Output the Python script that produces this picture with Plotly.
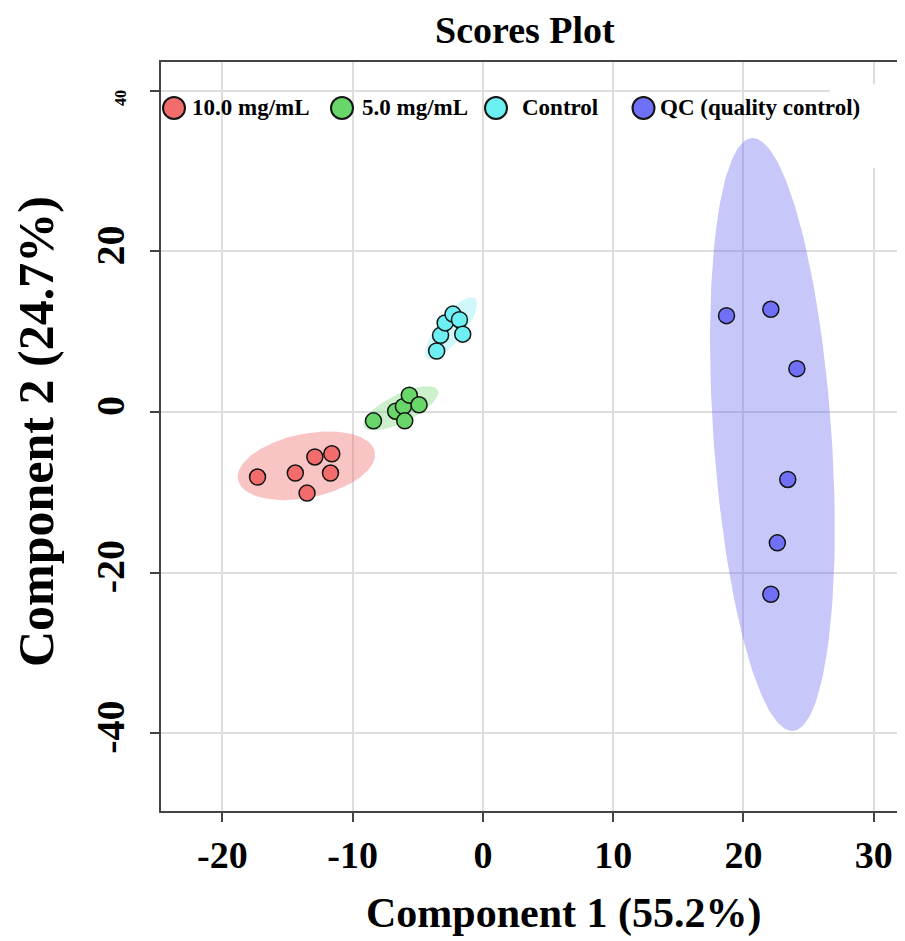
import numpy as np
import plotly.graph_objects as go

# ---------------- data ----------------
groups = ["10.0 mg/mL", "5.0 mg/mL", "Control", "QC (quality control)"]

x_10mg = [-17.3, -14.4, -12.9, -11.6, -11.7, -13.5]
y_10mg = [-8.1, -7.6, -5.6, -5.2, -7.6, -10.1]

x_5mg = [-8.4, -6.7, -6.1, -5.65, -4.9, -6.0]
y_5mg = [-1.1, 0.1, 0.7, 2.1, 0.9, -1.1]

x_ctrl = [-3.55, -3.25, -2.9, -2.3, -1.8, -1.55]
y_ctrl = [7.6, 9.55, 11.1, 12.2, 11.5, 9.7]

x_qc = [18.7, 22.1, 24.1, 23.4, 22.6, 22.1]
y_qc = [12.0, 12.8, 5.4, -8.4, -16.3, -22.7]

# confidence ellipses: centre, semi-axis vector U, conjugate semi-axis vector V
ell_center = [(-13.55, -6.7), (-6.3, 0.46), (-2.44, 10.42), (22.22, -2.8)]
ell_u = [(5.25, 1.76), (2.83, 2.28), (1.83, 3.74), (-1.58, 36.92)]
ell_v = [(0.5, -3.9), (0.48, -1.57), (0.78, -1.0), (4.52, 0.51)]

x_ticks = [-20, -10, 0, 10, 20, 30]
x_ticktext = ["-20", "-10", "0", "10", "20", "30"]
y_ticks = [-40, -20, 0, 20, 40]
y_ticktext = ["-40", "-20", "0", "20", ""]

# ---------------- styling ----------------
FONT = "Liberation Serif, Times New Roman, serif"
marker_cols = ["rgb(242,108,108)", "rgb(104,214,104)", "rgb(108,240,244)", "rgb(112,112,246)"]
fill_cols = ["rgba(240,100,100,0.38)", "rgba(100,205,100,0.33)",
             "rgba(100,232,240,0.30)", "rgba(100,100,240,0.36)"]

xs = [x_10mg, x_5mg, x_ctrl, x_qc]
ys = [y_10mg, y_5mg, y_ctrl, y_qc]

fig = go.Figure()

t = np.linspace(0, 2 * np.pi, 200)
for i in range(4):
    cx, cy = ell_center[i]
    ux, uy = ell_u[i]
    vx, vy = ell_v[i]
    ex = cx + np.cos(t) * ux + np.sin(t) * vx
    ey = cy + np.cos(t) * uy + np.sin(t) * vy
    fig.add_trace(go.Scatter(x=ex, y=ey, mode="lines", fill="toself",
                             fillcolor=fill_cols[i], line=dict(width=0),
                             hoverinfo="skip", showlegend=False))

for i in range(4):
    fig.add_trace(go.Scatter(x=xs[i], y=ys[i], mode="markers", name=groups[i],
                             marker=dict(size=16, color=marker_cols[i],
                                         line=dict(color="rgb(20,20,20)", width=1.5)),
                             showlegend=False))

# page has an 8px body margin; figure sits at (8, 8)
OFF = 8
FIG_W, FIG_H = 905 - OFF, 941 - OFF
# plot area in page pixels
L, R, T, B = 161, 905, 62, 811
W, H = R - L, B - T


def px(x):
    return (x - L) / W


def py(y):
    return (B - y) / H


shapes = []
annotations = []

# white patch at upper right (as in reference)
shapes.append(dict(type="rect", xref="paper", yref="paper", x0=px(830), x1=1.0,
                   y0=py(168), y1=py(84), fillcolor="white", line=dict(width=0),
                   layer="above"))

# legend drawn manually
leg_circle_x = [174, 342, 496, 643.5]
leg_text_x = [190, 360, 520, 658]
leg_y = 108
for i in range(4):
    shapes.append(dict(type="circle", xref="paper", yref="paper",
                       xsizemode="pixel", ysizemode="pixel",
                       xanchor=px(leg_circle_x[i]), yanchor=py(leg_y),
                       x0=-11, x1=11, y0=-11, y1=11,
                       fillcolor=marker_cols[i], line=dict(color="rgb(20,20,20)", width=2)))
    annotations.append(dict(xref="paper", yref="paper", x=px(leg_text_x[i]), y=py(leg_y),
                            xanchor="left", yanchor="middle", showarrow=False,
                            text="<b>%s</b>" % groups[i],
                            font=dict(family=FONT, size=23, color="black")))

annotations.append(dict(xref="paper", yref="paper", x=px(525), y=py(30),
                        xanchor="center", yanchor="middle", showarrow=False,
                        text="<b>Scores Plot</b>", font=dict(family=FONT, size=38, color="black")))
annotations.append(dict(xref="paper", yref="paper", x=px(564), y=py(913),
                        xanchor="center", yanchor="middle", showarrow=False,
                        text="<b>Component 1 (55.2%)</b>", font=dict(family=FONT, size=42, color="black")))
annotations.append(dict(xref="paper", yref="paper", x=px(36), y=py(432),
                        xanchor="center", yanchor="middle", showarrow=False, textangle=-90,
                        text="<b>Component 2 (24.7%)</b>", font=dict(family=FONT, size=50, color="black")))
annotations.append(dict(xref="paper", yref="paper", x=px(120), y=py(98),
                        xanchor="center", yanchor="middle", showarrow=False, textangle=-90,
                        text="<b>40</b>", font=dict(family=FONT, size=16, color="black")))

axis_common = dict(showline=True, linecolor="#444", linewidth=2, ticks="outside",
                   ticklen=9, tickwidth=2, tickcolor="#444", showgrid=True,
                   gridcolor="#DDDDDD", gridwidth=1.5, zeroline=False)

fig.update_layout(
    width=FIG_W, height=FIG_H,
    margin=dict(l=L - OFF, r=(905 - OFF) - (R - OFF), t=T - OFF, b=FIG_H - (B - OFF)),
    paper_bgcolor="white", plot_bgcolor="white",
    showlegend=False,
    shapes=shapes, annotations=annotations,
    xaxis=dict(range=[-24.71, 32.4], tickvals=x_ticks, ticktext=x_ticktext, mirror=True,
               tickfont=dict(family=FONT, size=38, color="black", weight="bold"),
               **axis_common),
    yaxis=dict(range=[-49.7, 43.6], tickvals=y_ticks, ticktext=y_ticktext, tickangle=-90,
               ticklabelstandoff=10,
               tickfont=dict(family=FONT, size=40, color="black", weight="bold"),
               **axis_common),
)

fig.write_html("out.html")
